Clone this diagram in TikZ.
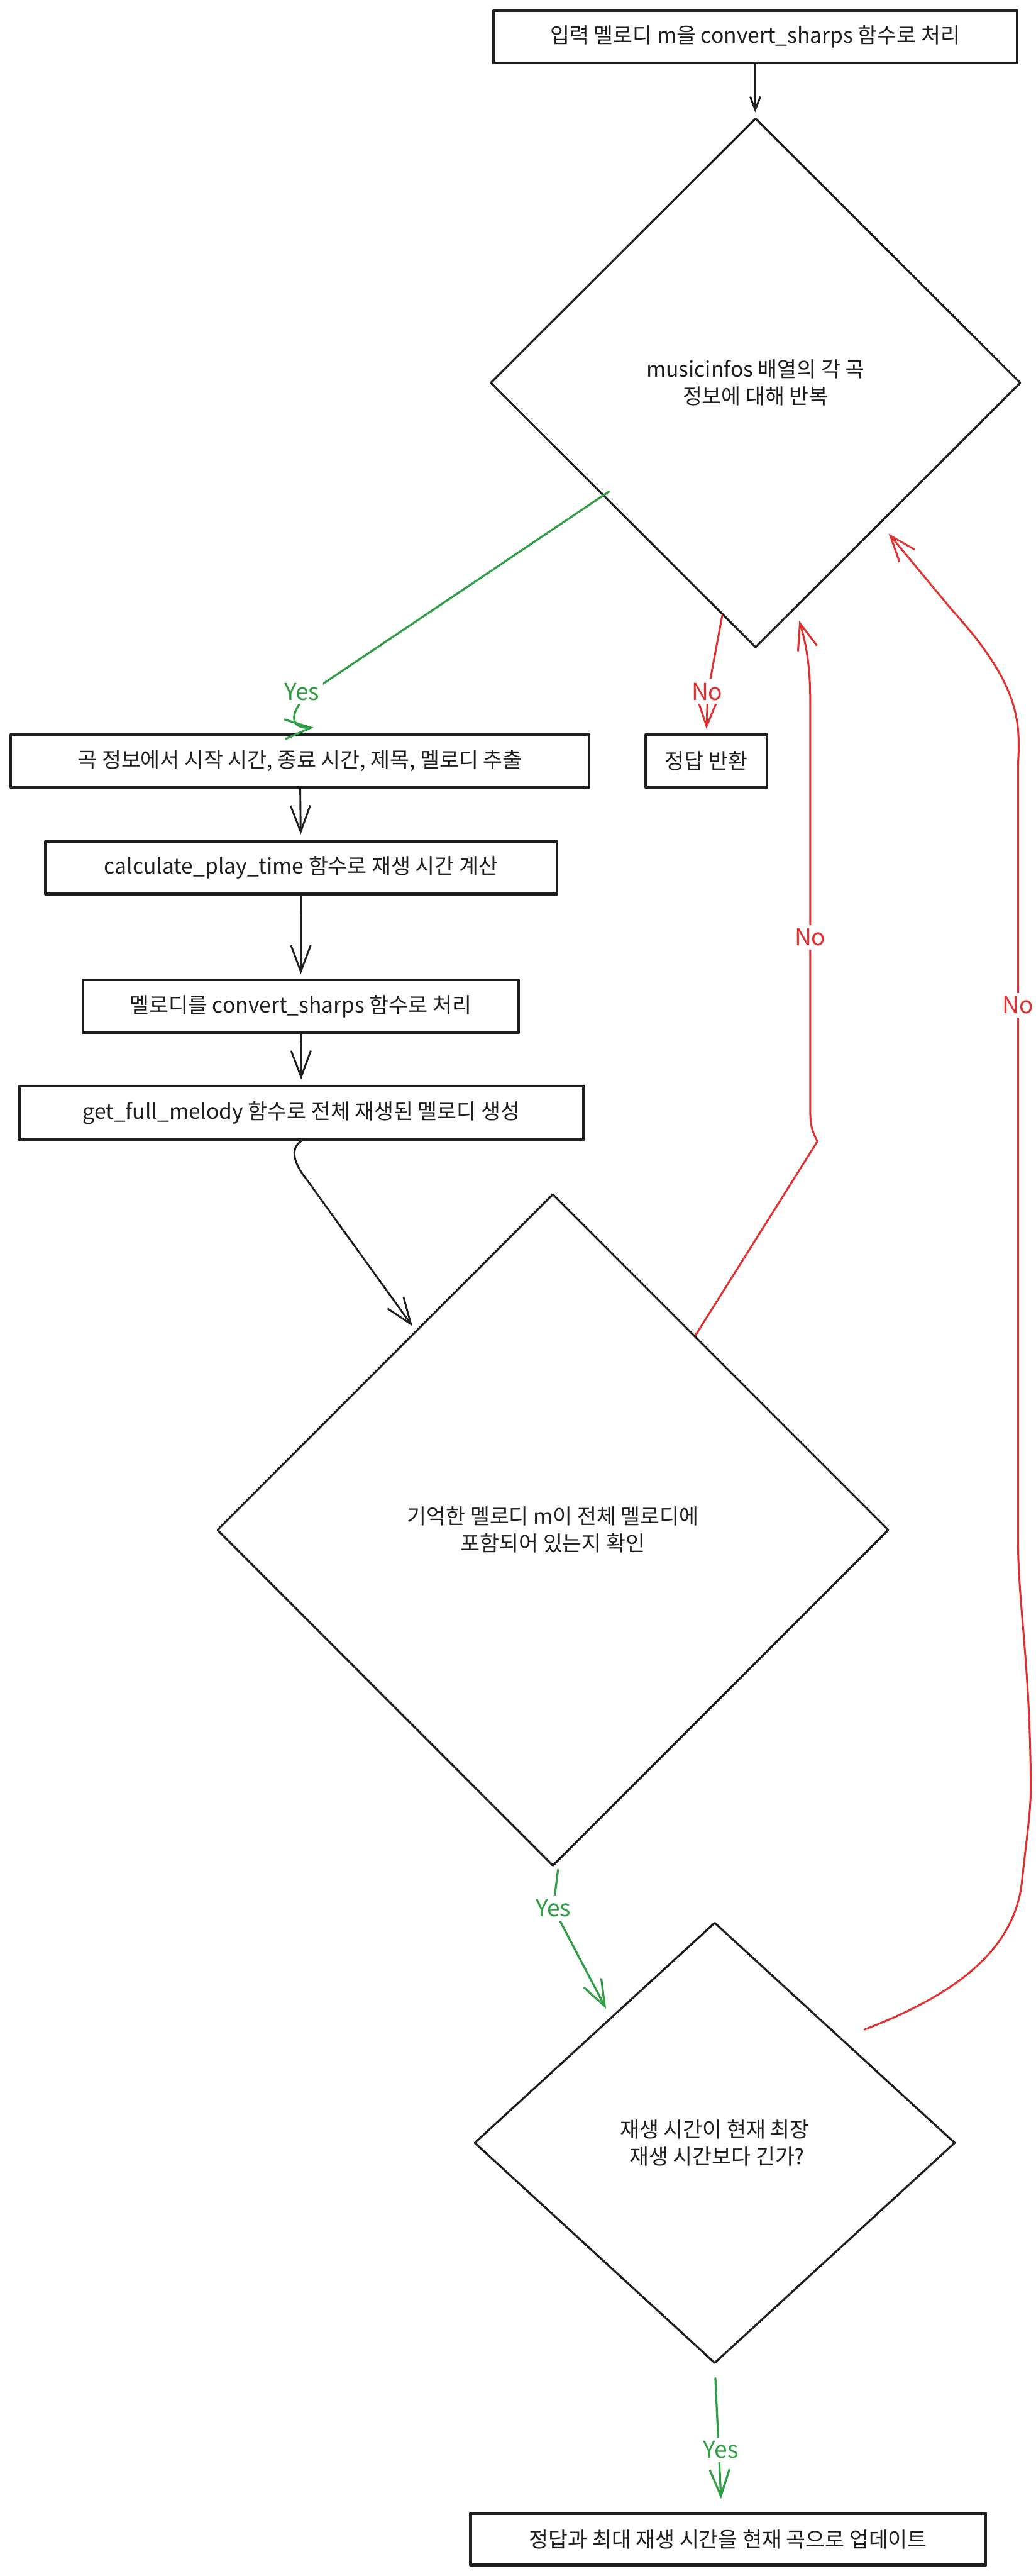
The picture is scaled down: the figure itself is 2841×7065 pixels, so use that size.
\documentclass[tikz,border=0pt]{standalone}
\usepackage{fontspec}
\setmainfont{Noto Sans CJK KR}
\usetikzlibrary{arrows.meta,shapes.geometric,calc}
\definecolor{ink}{HTML}{1E1E1E}
\definecolor{gr}{HTML}{2F9E44}
\definecolor{rd}{HTML}{E03131}
\begin{document}
\begin{tikzpicture}[x=0.5pt,y=-0.5pt,
  every node/.style={font=\fontsize{29}{37}\selectfont, text=ink},
  box/.style={draw=ink, line width=3.8pt, rectangle, inner sep=0pt, align=center, line join=round},
  dia/.style={draw=ink, line width=2.8pt, diamond, inner sep=0pt, align=center, line join=round},
  arr/.style={draw=ink, line width=2.5pt, line cap=round, line join=round, -{Straight Barb[length=36pt,width=27pt]}},
  garr/.style={arr, draw=gr, line width=2.8pt},
  rarr/.style={arr, draw=rd, line width=2.6pt},
  glbl/.style={fill=white, inner sep=5pt, text=gr, font=\fontsize{32}{34}\selectfont},
  rlbl/.style={fill=white, inner sep=5pt, text=rd, font=\fontsize{32}{34}\selectfont},
]
\useasboundingbox (0,0) rectangle (2841,7065);
\fill[white] (0,0) rectangle (2841,7065);

% nodes
\node[box, minimum width=718.5pt, minimum height=72pt] (b1) at (2072,101) {입력 멜로디 m을 convert\_sharps 함수로 처리};
\node[dia, minimum width=727.5pt, minimum height=726pt] (d1) at (2073,1050) {musicinfos 배열의 각 곡\\정보에 대해 반복};
\node[box, minimum width=793.5pt, minimum height=72pt] (b2) at (823,2087) {곡 정보에서 시작 시간, 종료 시간, 제목, 멜로디 추출};
\node[box, minimum width=166.5pt, minimum height=72pt] (rtn) at (1938,2087) {정답 반환};
\node[box, minimum width=702pt, minimum height=72pt] (b3) at (826,2380) {calculate\_play\_time 함수로 재생 시간 계산};
\node[box, minimum width=597.5pt, minimum height=72.5pt] (b4) at (825,2760) {멜로디를 convert\_sharps 함수로 처리};
\node[box, minimum width=774.5pt, minimum height=73.5pt] (b5) at (827,3052) {get\_full\_melody 함수로 전체 재생된 멜로디 생성};
\node[dia, minimum width=921.5pt, minimum height=921.5pt] (d2) at (1517,4196) {기억한 멜로디 m이 전체 멜로디에\\포함되어 있는지 확인};
\node[dia, minimum width=659.5pt, minimum height=604.5pt] (d3) at (1961,5877) {재생 시간이 현재 최장\\\ 재생 시간보다 긴가?};
\node[box, minimum width=707pt, minimum height=71pt] (fin) at (1998,6964) {정답과 최대 재생 시간을 현재 곡으로 업데이트};

% black connectors
\draw[arr, -{Straight Barb[length=18pt,width=14pt]}, shorten >=7pt] (b1) -- (d1);
\draw[arr, shorten >=8pt] (b2) -- (b3);
\draw[arr, shorten >=6pt] (b3) -- (b4);
\draw[arr, shorten >=7pt] (b4) -- (b5);
\draw[arr] (b5.south) .. controls (795,3150) and (805,3190) .. (843,3237) -- ($(d2.west)!0.583!(d2.north)+(0,-20)$);

% green connectors
\draw[garr] ($(d1.west)!0.45!(d1.south)+(0,-30)$) -- (875,1883) .. controls (800,1930) and (780,2000) .. ($(b2.north)+(38,-16)$);
\draw[garr] ($(d2.south)+(14,8)$) -- (1518,5233) -- ($(d3.west)!0.55!(d3.north)+(0,-34)$);
\draw[garr, shorten <=19pt, shorten >=18pt] (d3.south) -- ($(fin.north)+(-18,0)$);

% red connectors
\draw[rarr, shorten >=6pt] ($(d1.west)!0.875!(d1.south)$) -- (1942,1900) -- (rtn.north);
\draw[rarr] ($(d2.north)!0.423!(d2.east)$) -- (2243,3130) .. controls (2226,3100) and (2223,3080) .. (2223,3040) -- (2223,1920) .. controls (2223,1820) and (2210,1760) .. ($(d1.south)!0.164!(d1.east)+(0,43)$);
\draw[rarr] ($(d3.north)!0.62!(d3.east)+(0,-80)$) .. controls (2650,5460) and (2790,5330) .. (2805,5150) .. controls (2818,5030) and (2830,4960) .. (2828,4880) .. controls (2825,4550) and (2793,4400) .. (2793,4211) -- (2793,2100) .. controls (2800,1980) and (2800,1880) .. (2612,1673) -- ($(d1.south east)+(0,49)$);

% labels
\node[glbl] (ly1) at (828,1897) {Yes};
\node[rlbl] (ln1) at (1940,1897) {No};
\node[rlbl] (ln2) at (2223,2571) {No};
\node[rlbl] (ln3) at (2793,2757) {No};
\node[glbl] (ly2) at (1518,5233) {Yes};
\node[glbl] (ly3) at (1978,6719) {Yes};
\end{tikzpicture}
\end{document}
